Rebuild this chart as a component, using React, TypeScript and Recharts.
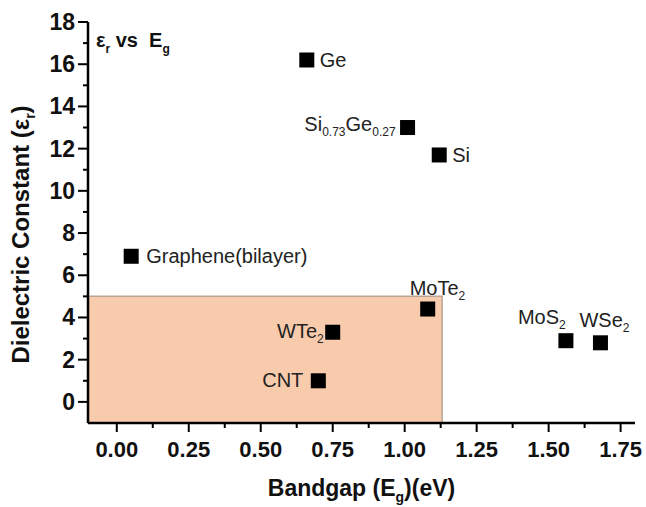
import React from 'react';
import {
  ScatterChart, Scatter, XAxis, YAxis, ReferenceArea, Customized,
} from 'recharts';

// materials, bandgap Eg (eV) and dielectric constant εr
const materials = ['Ge', 'Si_{0.73}Ge_{0.27}', 'Si', 'Graphene(bilayer)', 'MoTe_{2}', 'WTe_{2}', 'CNT', 'MoS_{2}', 'WSe_{2}'];
const bandgap = [0.66, 1.01, 1.12, 0.05, 1.08, 0.75, 0.70, 1.56, 1.68];
const dielectric = [16.2, 13.0, 11.7, 6.9, 4.4, 3.3, 1.0, 2.9, 2.8];

const xMajorTicks = [0, 0.25, 0.5, 0.75, 1.0, 1.25, 1.5, 1.75];
const xMinorTicks = [0.125, 0.375, 0.625, 0.875, 1.125, 1.375, 1.625];
const yMajorTicks = [0, 2, 4, 6, 8, 10, 12, 14, 16, 18];
const yMinorTicks = [1, 3, 5, 7, 9, 11, 13, 15, 17];

// low-k region shaded in the figure
const regionX = [-0.1, 1.13];
const regionY = [-1, 5];

const FONT = '"Liberation Sans", Arial, sans-serif';

// where each point label sits relative to its marker
const labelPlacement: Record<string, { dx: number; dy: number; anchor: 'start' | 'end' }> = {
  'Ge': { dx: 13, dy: 7, anchor: 'start' },
  'Si_{0.73}Ge_{0.27}': { dx: -12, dy: 3, anchor: 'end' },
  'Si': { dx: 13, dy: 7, anchor: 'start' },
  'Graphene(bilayer)': { dx: 15, dy: 7, anchor: 'start' },
  'MoTe_{2}': { dx: -18, dy: -14, anchor: 'start' },
  'WTe_{2}': { dx: -9, dy: 6, anchor: 'end' },
  'CNT': { dx: -15, dy: 6, anchor: 'end' },
  'MoS_{2}': { dx: -48, dy: -17, anchor: 'start' },
  'WSe_{2}': { dx: -21, dy: -16, anchor: 'start' },
};

const data = materials.map((name, i) => ({ name, eg: bandgap[i], er: dielectric[i] }));

// "MoS_{2}" -> tspans with subscripts
function richText(label: string, subSize: number, shift: number) {
  const parts: React.ReactNode[] = [];
  const re = /([^_]+)|_\{([^}]*)\}/g;
  let m: RegExpExecArray | null;
  let k = 0;
  let lowered = false;
  while ((m = re.exec(label)) !== null) {
    if (m[1] !== undefined) {
      parts.push(<tspan key={k++} dy={lowered ? -shift : 0}>{m[1]}</tspan>);
      lowered = false;
    } else {
      parts.push(<tspan key={k++} dy={shift} fontSize={subSize}>{m[2]}</tspan>);
      lowered = true;
    }
  }
  return parts;
}

const SquareWithLabel = (props: any) => {
  const { cx, cy, payload } = props;
  if (cx == null || cy == null) return null;
  const p = labelPlacement[payload.name];
  const s = 15;
  return (
    <g>
      <rect x={cx - s / 2} y={cy - s / 2} width={s} height={s} fill="#000" />
      <text
        x={cx + p.dx}
        y={cy + p.dy}
        textAnchor={p.anchor}
        fontFamily={FONT}
        fontSize={20}
        fill="#222"
      >
        {richText(payload.name, 12, 5)}
      </text>
    </g>
  );
};

const XTick = (props: any) => {
  const { x, y, payload } = props;
  const major = xMajorTicks.includes(payload.value);
  return (
    <g>
      <line x1={x} y1={y} x2={x} y2={y + (major ? 9 : 5)} stroke="#000" strokeWidth={2} />
      {major && (
        <text x={x} y={y + 34} textAnchor="middle" fontFamily={FONT} fontWeight="bold" fontSize={22} fill="#111">
          {payload.value.toFixed(2)}
        </text>
      )}
    </g>
  );
};

const YTick = (props: any) => {
  const { x, y, payload } = props;
  const major = yMajorTicks.includes(payload.value);
  return (
    <g>
      <line x1={x} y1={y} x2={x - (major ? 10 : 5)} y2={y} stroke="#000" strokeWidth={2} />
      {major && (
        <text x={x - 13} y={y + 8} textAnchor="end" fontFamily={FONT} fontWeight="bold" fontSize={23} fill="#111">
          {payload.value}
        </text>
      )}
    </g>
  );
};

const XTitle = (props: any) => {
  const vb = props.viewBox;
  return (
    <text x={vb.x + vb.width / 2} y={vb.y + 73} textAnchor="middle" fontFamily={FONT} fontWeight="bold" fontSize={23} fill="#111">
      {richText('Bandgap (E_{g})(eV)', 14, 6)}
    </text>
  );
};

const YTitle = (props: any) => {
  const vb = props.viewBox;
  const cx = 29;
  const cy = vb.y + vb.height / 2 + 12;
  return (
    <text
      x={cx}
      y={cy}
      textAnchor="middle"
      transform={`rotate(-90, ${cx}, ${cy})`}
      fontFamily={FONT}
      fontWeight="bold"
      fontSize={24}
      fill="#111"
    >
      {richText('Dielectric Constant (ε_{r})', 14, 6)}
    </text>
  );
};

const InsetTitle = () => (
  <text x={96} y={47} fontFamily={FONT} fontWeight="bold" fontSize={20} fill="#111" style={{ whiteSpace: 'pre' }}>
    {richText('ε_{r} vs  E_{g}', 12, 6)}
  </text>
);

export default function App() {
  return (
    <div style={{ position: 'absolute', left: 0, top: 0, background: '#fff' }}>
      <ScatterChart width={646} height={507} margin={{ top: 22, right: 11, bottom: 0, left: 0 }}>
        <XAxis
          dataKey="eg"
          type="number"
          domain={[-0.1, 1.8]}
          ticks={[...xMajorTicks, ...xMinorTicks].sort((a, b) => a - b)}
          interval={0}
          allowDataOverflow
          height={84}
          tickSize={0}
          tickMargin={0}
          tick={<XTick />}
          axisLine={{ stroke: '#000', strokeWidth: 2.5 }}
          label={<XTitle />}
        />
        <YAxis
          dataKey="er"
          type="number"
          domain={[-1, 18]}
          ticks={[...yMajorTicks, ...yMinorTicks].sort((a, b) => a - b)}
          interval={0}
          allowDataOverflow
          width={88}
          tickSize={0}
          tickMargin={0}
          tick={<YTick />}
          axisLine={{ stroke: '#000', strokeWidth: 2.5 }}
          label={<YTitle />}
        />
        <XAxis
          xAxisId="top"
          orientation="top"
          type="number"
          domain={[-0.1, 1.8]}
          height={0}
          tick={false}
          tickLine={false}
          axisLine={{ stroke: '#000', strokeWidth: 2.5 }}
        />
        <YAxis
          yAxisId="right"
          orientation="right"
          type="number"
          domain={[-1, 18]}
          width={0}
          tick={false}
          tickLine={false}
          axisLine={{ stroke: '#000', strokeWidth: 2.5 }}
        />
        <ReferenceArea
          x1={regionX[0]}
          x2={regionX[1]}
          y1={regionY[0]}
          y2={regionY[1]}
          fill="#F9CBAD"
          fillOpacity={1}
          stroke="#B9A594"
          strokeWidth={1.5}
        />
        <Scatter data={data} shape={<SquareWithLabel />} isAnimationActive={false} />
        <Customized component={<InsetTitle />} />
      </ScatterChart>
    </div>
  );
}
